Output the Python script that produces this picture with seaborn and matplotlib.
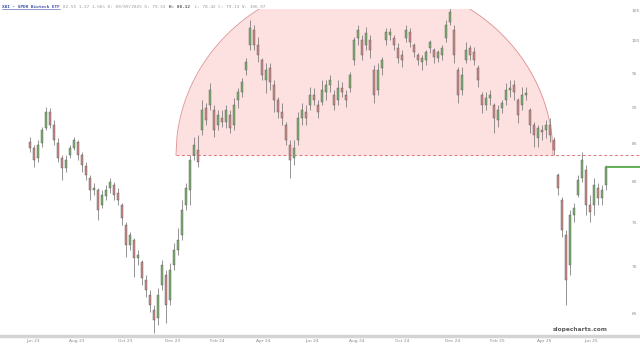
import numpy as np
import pandas as pd
import matplotlib
matplotlib.use("Agg")
import matplotlib.pyplot as plt
from matplotlib.lines import Line2D
from matplotlib.transforms import IdentityTransform
from matplotlib.ticker import NullLocator, NullFormatter
import seaborn as sns

# ---------------- data ----------------
opens = [85.21, 84.41, 83.09, 85.08, 87.12, 89.36, 87.54, 85.08, 83.09, 81.78,
         83.48, 84.41, 85.21, 83.48, 82.04, 80.50, 78.98, 78.98, 77.13, 78.24,
         79.23, 79.61, 78.61, 77.13, 74.73, 72.40, 72.98, 70.93, 70.48, 68.51,
         66.90, 65.33, 64.50, 67.97, 69.05, 66.37, 70.15, 71.83, 73.56, 77.13,
         78.98, 83.48, 84.14, 86.85, 89.93, 90.35, 89.64, 87.54, 88.51, 87.95,
         88.93, 87.54, 91.07, 92.23, 95.49, 99.34, 101.73, 99.34, 97.01, 93.99,
         95.79, 93.25, 91.07, 89.36, 87.54, 84.81, 83.09, 85.48, 88.51, 89.36,
         90.35, 91.79, 90.35, 90.78, 92.23, 93.25, 91.79, 91.07, 92.81, 91.79,
         92.81, 97.01, 100.45, 100.13, 99.34, 100.13, 95.49, 92.52, 95.79, 100.13,
         100.93, 100.45, 98.87, 97.78, 100.45, 101.41, 99.34, 97.78, 96.71, 97.01,
         98.87, 98.56, 97.32, 97.78, 100.45, 103.02, 101.73, 95.49, 92.52, 97.01,
         98.87, 98.25, 95.79, 91.79, 90.35, 91.36, 90.35, 88.23, 89.93, 91.07,
         92.52, 93.25, 91.07, 90.35, 91.79, 89.64, 87.54, 85.75, 86.85, 86.85,
         87.54, 85.48, 80.88, 77.74, 73.56, 70.15, 75.92, 78.36, 80.50, 81.52,
         77.13, 77.13, 79.23, 77.99, 79.61]
highs = [85.89, 84.81, 85.48, 87.26, 90.07, 89.93, 88.23, 85.75, 83.48, 83.48,
         84.81, 85.89, 85.48, 83.88, 82.56, 80.88, 79.86, 79.23, 78.98, 79.61,
         80.50, 79.99, 79.23, 77.37, 75.09, 73.91, 73.21, 71.83, 70.71, 69.05,
         67.43, 65.85, 67.65, 70.71, 69.60, 70.37, 72.63, 74.38, 77.74, 79.86,
         83.48, 85.89, 86.16, 91.07, 90.64, 93.55, 90.35, 89.64, 89.64, 90.35,
         89.64, 91.36, 92.81, 94.29, 97.32, 103.35, 102.54, 100.61, 97.32, 96.55,
         96.55, 93.99, 91.50, 90.64, 87.95, 85.48, 85.48, 89.36, 90.64, 90.35,
         92.96, 92.81, 91.07, 93.99, 93.99, 94.74, 92.52, 93.99, 93.69, 92.52,
         95.19, 100.61, 102.54, 100.93, 102.21, 100.93, 96.25, 96.55, 97.47, 102.05,
         102.05, 100.93, 99.65, 98.56, 102.54, 102.05, 99.65, 98.09, 97.78, 98.56,
         100.13, 98.87, 98.56, 99.34, 103.35, 105.33, 102.54, 95.95, 95.95, 99.81,
         99.34, 99.03, 96.25, 92.23, 92.23, 92.52, 90.64, 90.35, 91.07, 93.55,
         93.99, 93.99, 91.36, 92.96, 92.96, 89.93, 87.95, 87.54, 87.54, 88.23,
         88.51, 85.89, 81.14, 78.11, 74.14, 76.52, 77.37, 80.88, 83.88, 82.17,
         78.36, 80.50, 79.86, 79.61, 82.17]
lows = [83.88, 81.91, 82.56, 84.54, 86.85, 87.12, 84.81, 82.56, 80.24, 81.26,
        83.09, 84.14, 82.82, 81.26, 80.24, 77.74, 78.36, 75.32, 76.76, 77.74,
        78.61, 77.74, 77.13, 74.73, 71.04, 71.83, 68.83, 70.15, 67.97, 66.69,
        65.12, 62.99, 63.79, 67.43, 63.99, 65.85, 69.60, 71.27, 72.98, 76.52,
        77.13, 82.82, 81.91, 86.16, 87.54, 89.64, 85.89, 86.85, 87.26, 87.12,
        86.44, 86.85, 89.93, 91.50, 94.74, 98.56, 98.56, 96.71, 93.99, 92.08,
        92.52, 89.36, 88.51, 87.54, 84.81, 80.50, 82.17, 84.81, 87.54, 87.54,
        89.64, 90.35, 88.51, 90.35, 91.07, 92.23, 89.64, 90.35, 91.50, 90.07,
        92.23, 96.25, 99.34, 97.01, 98.56, 97.32, 90.64, 91.79, 94.74, 99.34,
        100.13, 98.56, 96.55, 95.95, 99.81, 99.03, 97.47, 96.25, 95.49, 96.25,
        98.09, 96.55, 96.71, 97.01, 99.81, 102.54, 96.55, 90.64, 91.79, 96.55,
        97.01, 96.25, 92.96, 89.22, 89.64, 90.35, 86.44, 87.26, 89.22, 90.35,
        91.50, 91.07, 87.81, 89.64, 91.07, 86.44, 84.54, 84.54, 85.48, 85.75,
        85.21, 83.48, 78.36, 73.33, 65.85, 69.05, 75.09, 78.11, 79.99, 75.92,
        75.09, 75.92, 77.13, 77.13, 78.98]
closes = [84.41, 82.82, 84.81, 86.85, 89.36, 87.54, 85.48, 83.09, 81.78, 82.82,
          84.41, 85.48, 83.48, 82.17, 80.88, 78.98, 79.23, 76.52, 78.36, 78.98,
          79.99, 78.36, 77.74, 75.56, 72.40, 73.56, 70.93, 71.27, 68.72, 67.43,
          65.85, 64.30, 66.90, 70.15, 65.85, 69.60, 71.83, 72.98, 76.52, 79.23,
          82.82, 84.81, 82.56, 89.64, 88.23, 92.52, 86.85, 88.93, 87.95, 89.64,
          87.12, 90.35, 92.23, 93.69, 96.71, 102.05, 99.34, 97.78, 94.74, 95.49,
          93.69, 91.07, 89.36, 88.51, 85.48, 82.82, 84.41, 88.51, 89.64, 88.51,
          91.79, 91.07, 89.36, 92.52, 93.25, 93.99, 90.35, 92.81, 92.23, 91.07,
          94.74, 100.13, 101.73, 97.78, 101.25, 98.56, 91.79, 95.49, 97.01, 101.41,
          101.41, 99.34, 97.32, 97.01, 101.73, 99.81, 98.25, 97.01, 97.32, 98.25,
          99.81, 97.47, 98.25, 98.87, 102.54, 104.67, 97.78, 91.79, 94.74, 98.56,
          97.78, 97.01, 93.99, 90.35, 91.36, 91.79, 88.51, 89.64, 90.64, 92.52,
          92.81, 92.23, 88.93, 91.79, 92.08, 87.54, 86.16, 87.12, 86.57, 87.54,
          86.16, 84.14, 79.23, 74.14, 68.51, 75.92, 76.76, 80.24, 82.82, 77.13,
          76.28, 79.61, 77.99, 78.98, 81.91]

# x tick labels (candle index positions) and y tick values
x_tick_pos = [0.75, 11.75, 23.75, 35.75, 46.75, 58.25, 70.5, 81.75, 93.0,
              105.75, 116.75, 128.5, 140.25]
x_tick_labels = ["Jun 23", "Aug 23", "Oct 23", "Dec 23", "Feb 24", "Apr 24",
                 "Jun 24", "Aug 24", "Oct 24", "Dec 24", "Feb 25", "Apr 25",
                 "Jun 25"]
y_ticks = [65, 70, 75, 80, 85, 90, 95, 100, 105]

# saucer (semicircle) annotation: start/end candle index, base price, apex price
arc_start, arc_end = 36.5, 130.75
arc_base, arc_apex = 83.48, 110.3

header_title = "XBI - SPDR Biotech ETF"
header_a = "82.55 1.27 1.56% D: 09/09/2025 O: 79.33 "
header_b = "H: 80.12"
header_c = " L: 78.42 C: 79.13 V: 106.97"

# ---------------- styling ----------------
sns.set_style("white")
plt.rcParams["font.family"] = ["DejaVu Sans"]

W, H = 640, 349
fig = plt.figure(figsize=(W / 100, H / 100), dpi=100)
ax = fig.add_axes([0, (H - 336) / H, 1, (336 - 9) / H])

df = pd.DataFrame({"i": np.arange(len(closes)), "o": opens, "h": highs,
                   "l": lows, "c": closes})
x_min, x_max = -7.5, 152.5

ax.set_yscale("log")
ax.set_xlim(x_min, x_max)
ax.set_ylim(62.68, 105.17)

# saucer
t = np.linspace(arc_start, arc_end, 400)
cx = (arc_start + arc_end) / 2
rx = (arc_end - arc_start) / 2
frac = np.sqrt(np.clip(1 - ((t - cx) / rx) ** 2, 0, 1))
yy = arc_base * (arc_apex / arc_base) ** frac
ax.fill_between(t, arc_base, yy, color="#fde1e1", zorder=0, lw=0)
ax.plot(t, yy, color="#e39a9a", lw=0.7, zorder=1)
ax.hlines(arc_base, arc_start, x_max, colors="#e07474", lw=0.7,
          linestyles=(0, (3, 2.5)), zorder=1)

# candles
green, red = "#7cae6c", "#c88886"
ax.vlines(df.i, df.l, df.h, color="#6a6a6a", lw=0.5, zorder=2)
up = df.c >= df.o
for mask, col in ((up, green), (~up, red)):
    sub = df[mask]
    bot = np.minimum(sub.o, sub.c)
    ht = np.maximum(np.abs(sub.c - sub.o), 0.12)
    ax.bar(sub.i, ht, bottom=bot, width=0.55, color=col, edgecolor="#5a5a5a",
           linewidth=0.3, zorder=3)

# last price line
last = pd.DataFrame({"x": [df.i.iloc[-1], x_max], "y": [closes[-1]] * 2})
sns.lineplot(data=last, x="x", y="y", color="#55a84a", lw=1.3, ax=ax,
             zorder=4)
ax.set_xlabel("")
ax.set_ylabel("")

# axes cosmetics
for s in ("top", "left", "right"):
    ax.spines[s].set_visible(False)
ax.spines["bottom"].set_color("#d4d4d4")
ax.spines["bottom"].set_linewidth(2.5)

ax.yaxis.tick_right()
ax.set_yticks(y_ticks, labels=[str(v) for v in y_ticks])
ax.yaxis.set_minor_locator(NullLocator())
ax.yaxis.set_minor_formatter(NullFormatter())
ax.tick_params(axis="y", length=0, pad=-6, labelsize=3.2, labelcolor="#8a8a8a")
ax.set_xticks(x_tick_pos, labels=x_tick_labels)
ax.tick_params(axis="x", length=0, pad=2.5, labelsize=3.2, labelcolor="#8a8a8a")

# watermark
fig.text(608 / W, 1 - 329 / H, "slopecharts.com", ha="right", va="center",
         fontsize=4.2, fontweight="bold", color="#5a5a5a")

# header
mono = "DejaVu Sans Mono"
y_head = 1 - 6.5 / H
fs_head = 3.2
t1 = fig.text(2 / W, y_head, header_title, fontsize=fs_head, family=mono,
              fontweight="bold", color="#3b4fa3", va="center")
fig.canvas.draw()
r = fig.canvas.get_renderer()
bb = t1.get_window_extent(r)
fig.add_artist(Line2D([bb.x0, bb.x1], [bb.y0 - 0.3, bb.y0 - 0.3],
                      transform=IdentityTransform(), color="#3b4fa3", lw=0.4))
xpos = bb.x1 + 3
for txt, wt, col in ((header_a, "normal", "#9a9a9a"),
                     (header_b, "bold", "#555555"),
                     (header_c, "normal", "#9a9a9a")):
    tt = fig.text(xpos / W, y_head, txt, fontsize=fs_head, family=mono,
                  fontweight=wt, color=col, va="center")
    fig.canvas.draw()
    xpos = tt.get_window_extent(r).x1 + 1.5

fig.savefig("out.png", dpi=100)
